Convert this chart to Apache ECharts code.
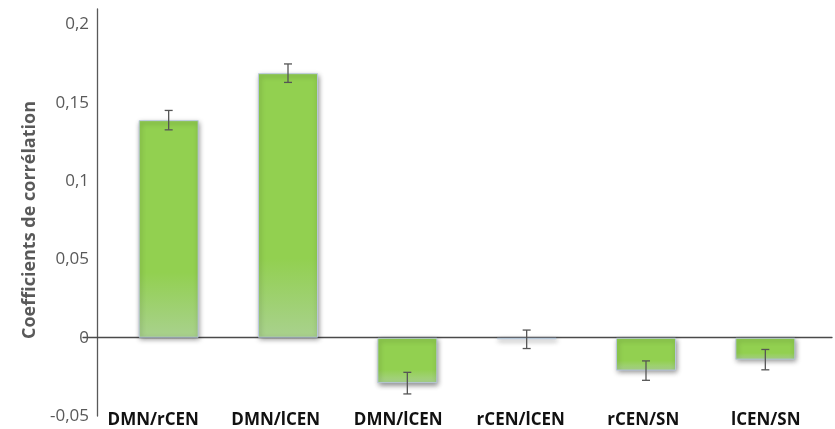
<!DOCTYPE html>
<html>
<head>
<meta charset="utf-8">
<script src="https://cdn.jsdelivr.net/npm/echarts@6/dist/echarts.min.js"></script>
<style>
  html, body { margin: 0; padding: 0; background: #ffffff; }
  #chart { width: 835px; height: 429px; }
</style>
</head>
<body>
<div id="chart"></div>
<script>
// Pairwise network correlations with standard errors
const categories = ['DMN/rCEN', 'DMN/lCEN', 'DMN/lCEN', 'rCEN/lCEN', 'rCEN/SN', 'lCEN/SN'];
const coefficients = [0.139, 0.169, -0.029, -0.001, -0.021, -0.014];
const errors = [0.0062, 0.0059, 0.0069, 0.0059, 0.0062, 0.0065];
const yTicks = { min: -0.05, max: 0.21, interval: 0.05 };

const FONT = 'Open Sans';
const GREY = '#595959';

const errorData = coefficients.map((v, i) => [i, v - errors[i], v + errors[i]]);

const hiddenY = (gridIndex) => ({
  type: 'value', gridIndex, min: yTicks.min, max: yTicks.max, interval: yTicks.interval,
  show: false, splitLine: { show: false }
});

const chart = echarts.init(document.getElementById('chart'), null, { renderer: 'canvas' });

chart.setOption({
  animation: false,
  backgroundColor: '#ffffff',
  grid: [
    { left: 109, right: 10, top: 9, bottom: 13 },   // bars and error bars
    { left: 92, right: 8, top: 9, bottom: 13 },     // category labels
    { left: 83, right: 3, top: 9, bottom: 13 }      // zero baseline
  ],
  xAxis: [
    {
      type: 'category', gridIndex: 0, data: categories,
      axisLine: { show: false }, axisTick: { show: false }, axisLabel: { show: false }
    },
    {
      type: 'category', gridIndex: 1, data: categories, position: 'bottom',
      axisLine: { show: false, onZero: false }, axisTick: { show: false },
      axisLabel: {
        margin: 1, color: '#111111', fontFamily: FONT, fontWeight: 'bold', fontSize: 17,
        interval: 0
      }
    },
    {
      type: 'category', gridIndex: 2, data: categories,
      axisLine: { show: true, onZero: true, lineStyle: { color: '#4a4a4a', width: 1.3 } },
      axisTick: { show: false }, axisLabel: { show: false }
    }
  ],
  yAxis: [
    {
      type: 'value', gridIndex: 0, min: yTicks.min, max: yTicks.max, interval: yTicks.interval,
      offset: 12,
      axisLine: { show: true, lineStyle: { color: GREY, width: 1.3 } },
      axisTick: { show: false },
      splitLine: { show: false },
      axisLabel: {
        margin: 8, color: GREY, fontFamily: FONT, fontSize: 17,
        formatter: (v) => {
          const h = Math.round(v * 100);
          if (h % 5 !== 0) return '';
          return String(h / 100).replace('.', ',');
        }
      },
      name: 'Coefficients de corrélation',
      nameLocation: 'middle', nameRotate: 90, nameGap: 52,
      nameTextStyle: {
        color: GREY, fontFamily: FONT, fontWeight: 'bold', fontSize: 18,
        padding: [0, 15, 0, 0]
      }
    },
    hiddenY(1),
    hiddenY(2)
  ],
  series: [
    {
      type: 'bar', xAxisIndex: 0, yAxisIndex: 0,
      data: coefficients, barWidth: 60,
      itemStyle: {
        color: new echarts.graphic.LinearGradient(0, 0, 0, 1, [
          { offset: 0, color: '#92D050' },
          { offset: 0.7, color: '#92D050' },
          { offset: 1, color: '#A9D18E' }
        ]),
        borderColor: 'rgba(185,200,225,0.9)', borderWidth: 1,
        shadowColor: 'rgba(0,0,0,0.45)', shadowBlur: 5, shadowOffsetX: 1, shadowOffsetY: 2
      },
      z: 2
    },
    {
      type: 'custom', xAxisIndex: 0, yAxisIndex: 0,
      data: errorData,
      encode: { x: 0, y: [1, 2] },
      z: 5,
      renderItem: (params, api) => {
        const idx = api.value(0);
        const lo = api.coord([idx, api.value(1)]);
        const hi = api.coord([idx, api.value(2)]);
        const cap = 4;
        const style = { stroke: '#555555', lineWidth: 1.3 };
        return {
          type: 'group',
          children: [
            { type: 'line', shape: { x1: lo[0], y1: lo[1], x2: hi[0], y2: hi[1] }, style },
            { type: 'line', shape: { x1: hi[0] - cap, y1: hi[1], x2: hi[0] + cap, y2: hi[1] }, style },
            { type: 'line', shape: { x1: lo[0] - cap, y1: lo[1], x2: lo[0] + cap, y2: lo[1] }, style }
          ]
        };
      }
    }
  ]
});
</script>
</body>
</html>
